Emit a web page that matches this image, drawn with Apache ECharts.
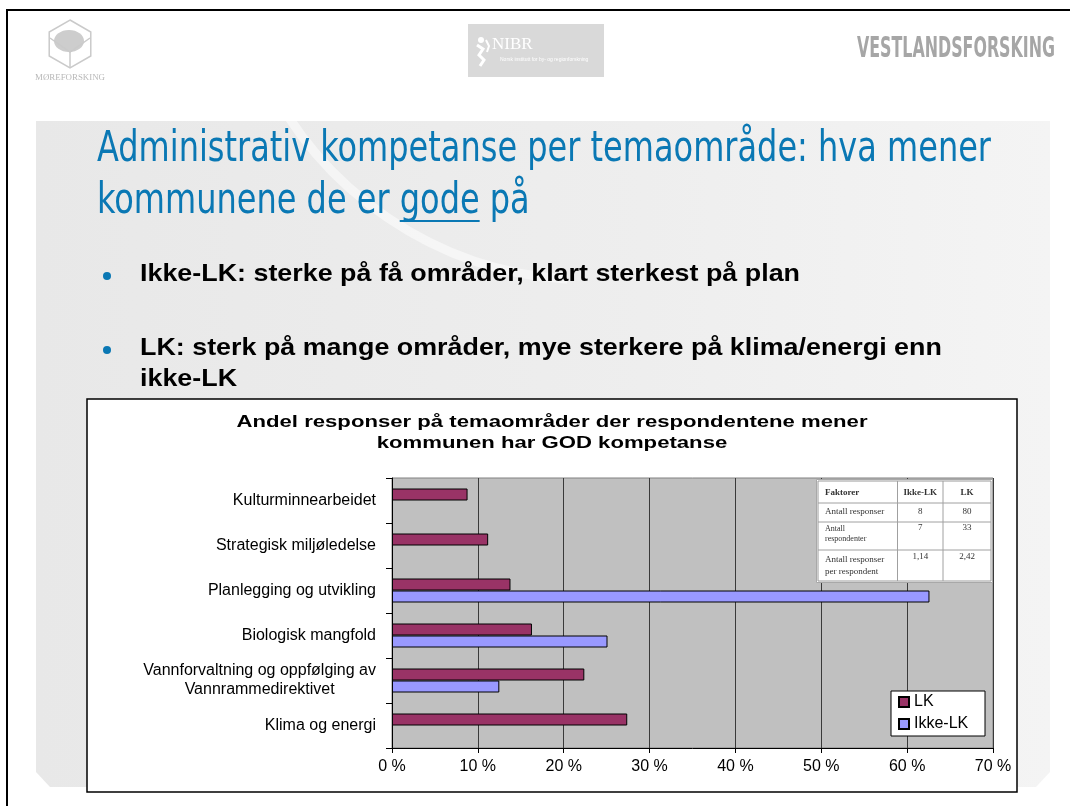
<!DOCTYPE html>
<html>
<head>
<meta charset="utf-8">
<script src="https://cdn.jsdelivr.net/npm/echarts@6/dist/echarts.min.js"></script>
<style>
  html, body { margin: 0; padding: 0; background: #fff; }
  #chart { width: 1070px; height: 806px; }
</style>
</head>
<body>
<div id="chart"></div>
<script>
// ---- Data ----
const categories = [
  'Kulturminnearbeidet',
  'Strategisk miljøledelse',
  'Planlegging og utvikling',
  'Biologisk mangfold',
  'Vannforvaltning og oppfølging av\nVannrammedirektivet',
  'Klima og energi'
];
const lkValues = [8.8, 11.2, 13.8, 16.3, 22.4, 27.4];      // LK, % of responses
const ikkeLkValues = [0, 0, 62.6, 25.1, 12.5, 0];           // Ikke-LK, % of responses
const seriesNames = ['LK', 'Ikke-LK'];
const xAxisMin = 0, xAxisMax = 70, xAxisStep = 10;

// Small summary table shown inside the plot
const tableHeader = ['Faktorer', 'Ikke-LK', 'LK'];
const tableRowLabels = [['Antall responser'], ['Antall', 'respondenter'], ['Antall responser', 'per respondent']];
const tableIkkeLk = ['8', '7', '1,14'];
const tableLk = ['80', '33', '2,42'];

// Slide texts
const slideTitle = ['Administrativ kompetanse per temaområde: hva mener', 'kommunene de er ', 'gode', ' på'];
const bullets = [
  ['Ikke-LK: sterke på få områder, klart sterkest på plan'],
  ['LK: sterk på mange områder, mye sterkere på klima/energi enn', 'ikke-LK']
];
const chartTitle = ['Andel responser på temaområder der respondentene mener', 'kommunen har GOD kompetanse'];

// ---- Styling helpers ----
const SANS = "'Liberation Sans', Arial, sans-serif";
const NARROW = "'Liberation Sans Narrow', 'DejaVu Sans Condensed', 'Liberation Sans', sans-serif";
const SERIF = "'Liberation Serif', 'Times New Roman', serif";
const BLUE = '#0a78b4';

const mctx = document.createElement('canvas').getContext('2d');
function textWidth(str, font) { mctx.font = font; return mctx.measureText(str).width; }
function fitScale(str, font, target) { return target / textWidth(str, font); }

// zero shares are left undrawn
const barData = arr => arr.map(v => (v === 0 ? '-' : v));

// ---- Slide decoration ----
const graphics = [];

// slide frame
graphics.push({ type: 'rect', z: -20, shape: { x: 6, y: 9, width: 2, height: 797 }, style: { fill: '#000' } });
graphics.push({ type: 'rect', z: -20, shape: { x: 6, y: 9, width: 1064, height: 2 }, style: { fill: '#000' } });

// grey background panel
graphics.push({
  type: 'polygon', z: -19,
  shape: { points: [[36, 121], [1050, 121], [1050, 772], [1036, 787], [50, 787], [36, 772]] },
  style: { fill: new echarts.graphic.LinearGradient(0, 0, 1, 0, [
    { offset: 0, color: '#e8e8e8' }, { offset: 0.6, color: '#eeeeee' }, { offset: 1, color: '#f4f4f4' }]) }
});
graphics.push({
  type: 'arc', z: -18,
  shape: { cx: 590, cy: -80, r: 360, startAngle: Math.PI * 0.52, endAngle: Math.PI * 0.86 },
  style: { stroke: '#ffffff', lineWidth: 9, opacity: 0.5, fill: null }
});

// logos
(function () {
  const cx = 70, cy = 44, r = 24;
  const pts = [];
  for (let i = 0; i < 6; i++) {
    const a = -Math.PI / 2 + i * Math.PI / 3;
    pts.push([cx + r * Math.cos(a), cy + r * Math.sin(a)]);
  }
  graphics.push({ type: 'polygon', shape: { points: pts }, style: { fill: null, stroke: '#cacaca', lineWidth: 1.5 } });
  graphics.push({ type: 'ellipse', shape: { cx: cx - 1, cy: cy - 3, rx: 15, ry: 11 }, style: { fill: '#cdcdcd' } });
  graphics.push({ type: 'polyline', shape: { points: [[cx - 20, cy - 6], [cx, cy + 8], [cx + 20, cy - 6]] }, style: { stroke: '#cacaca', lineWidth: 1.5, fill: null } });
  graphics.push({ type: 'line', shape: { x1: cx, y1: cy + 8, x2: cx, y2: cy + r }, style: { stroke: '#cacaca', lineWidth: 1.5 } });
  const f = `8px ${SERIF}`;
  graphics.push({ type: 'text', x: 35, y: 78, scaleX: fitScale('MØREFORSKING', f, 70),
    style: { text: 'MØREFORSKING', font: f, fill: '#b8b8b8', align: 'left', verticalAlign: 'middle' } });
})();

graphics.push({ type: 'rect', shape: { x: 468, y: 24, width: 136, height: 53 }, style: { fill: '#d9d9d9' } });
graphics.push({ type: 'circle', shape: { cx: 481, cy: 40, r: 3 }, style: { fill: '#fff' } });
graphics.push({ type: 'polyline', shape: { points: [[477, 45], [483, 49], [479, 55], [484, 60], [480, 66]] }, style: { stroke: '#fff', lineWidth: 3, fill: null } });
graphics.push({ type: 'polyline', shape: { points: [[486, 40], [489, 46], [487, 52]] }, style: { stroke: '#fff', lineWidth: 2, fill: null } });
graphics.push({ type: 'text', x: 492, y: 45, style: { text: 'NIBR', font: `17px ${SERIF}`, fill: '#fff', align: 'left', verticalAlign: 'middle' } });
graphics.push({ type: 'text', x: 500, y: 60, style: { text: 'Norsk institutt for by- og regionforskning', font: `5px ${SANS}`, fill: '#fff', align: 'left', verticalAlign: 'middle' } });

(function () {
  const f = `bold 28px ${NARROW}`;
  graphics.push({ type: 'text', x: 857, y: 50, scaleX: fitScale('VESTLANDSFORSKING', f, 198),
    style: { text: 'VESTLANDSFORSKING', font: f, fill: '#a6a6a6', align: 'left', verticalAlign: 'middle' } });
})();

// slide title
(function () {
  const f = `43px ${NARROW}`;
  const s = fitScale(slideTitle[0], f, 894);
  graphics.push({ type: 'text', x: 97, y: 150, scaleX: s, style: { text: slideTitle[0], font: f, fill: BLUE, align: 'left', verticalAlign: 'middle' } });
  const line2 = slideTitle[1] + slideTitle[2] + slideTitle[3];
  graphics.push({ type: 'text', x: 97, y: 201.5, scaleX: s, style: { text: line2, font: f, fill: BLUE, align: 'left', verticalAlign: 'middle' } });
  const u0 = 97 + s * textWidth(slideTitle[1], f);
  const u1 = 97 + s * textWidth(slideTitle[1] + slideTitle[2], f);
  graphics.push({ type: 'rect', shape: { x: u0, y: 220, width: u1 - u0, height: 2 }, style: { fill: BLUE } });
})();

// bullets
(function () {
  const f = `bold 24px ${SANS}`;
  const s = fitScale(bullets[0][0], f, 660);
  const ys = [[274.5], [348, 379.5]];
  const dots = [276, 350];
  bullets.forEach((b, i) => {
    graphics.push({ type: 'circle', shape: { cx: 107, cy: dots[i], r: 4 }, style: { fill: BLUE } });
    b.forEach((line, j) => {
      graphics.push({ type: 'text', x: 140, y: ys[i][j], scaleX: s, style: { text: line, font: f, fill: '#000', align: 'left', verticalAlign: 'middle' } });
    });
  });
})();

// chart frame
graphics.push({ type: 'rect', z: -9, shape: { x: 87, y: 399, width: 930, height: 393 }, style: { fill: '#fff', stroke: '#000', lineWidth: 1.5 } });

// chart title
(function () {
  const f = `bold 17px ${SANS}`;
  const s = fitScale(chartTitle[0], f, 631);
  graphics.push({ type: 'text', x: 552, y: 422, scaleX: s, style: { text: chartTitle[0], font: f, fill: '#000', align: 'center', verticalAlign: 'middle' } });
  graphics.push({ type: 'text', x: 552, y: 443, scaleX: s, style: { text: chartTitle[1], font: f, fill: '#000', align: 'center', verticalAlign: 'middle' } });
})();

// summary table in the plot corner
(function () {
  const colX = [818, 897.5, 943, 991];
  const rowY = [481, 503, 522, 550, 581];
  const Z = 50;
  graphics.push({ type: 'rect', z: Z, shape: { x: 816.5, y: 479.5, width: 176, height: 103 }, style: { fill: '#fff', stroke: '#a8a8a8', lineWidth: 1 } });
  graphics.push({ type: 'rect', z: Z, shape: { x: colX[0], y: rowY[0], width: colX[3] - colX[0], height: rowY[4] - rowY[0] }, style: { fill: '#fff', stroke: '#9a9a9a', lineWidth: 1 } });
  for (let i = 1; i < 4; i++) {
    graphics.push({ type: 'line', z: Z, shape: { x1: colX[0], y1: rowY[i], x2: colX[3], y2: rowY[i] }, style: { stroke: '#a0a0a0', lineWidth: 1 } });
  }
  for (let i = 1; i < 3; i++) {
    graphics.push({ type: 'line', z: Z, shape: { x1: colX[i], y1: rowY[0], x2: colX[i], y2: rowY[4] }, style: { stroke: '#a0a0a0', lineWidth: 1 } });
  }
  const c2 = (colX[1] + colX[2]) / 2, c3 = (colX[2] + colX[3]) / 2;
  const hf = `bold 9px ${SERIF}`, bf = `9px ${SERIF}`;
  const txt = (t, x, y, f, align) => graphics.push({ type: 'text', z: Z + 1, x, y, style: { text: t, font: f, fill: '#333', align, verticalAlign: 'middle' } });
  txt(tableHeader[0], 825, 493, hf, 'left');
  txt(tableHeader[1], c2, 493, hf, 'center');
  txt(tableHeader[2], c3, 493, hf, 'center');
  const labelYs = [[512], [529, 538.5], [560, 572]];
  const valueYs = [512, 528, 557];
  const rowFonts = [bf, `8px ${SERIF}`, bf];
  tableRowLabels.forEach((lines, r) => {
    lines.forEach((t, j) => txt(t, 825, labelYs[r][j], rowFonts[r], 'left'));
    txt(tableIkkeLk[r], c2, valueYs[r], bf, 'center');
    txt(tableLk[r], c3, valueYs[r], bf, 'center');
  });
})();

// ---- Chart ----
const legendFont = `16px ${SANS}`;
const legendTextW = Math.max(...seriesNames.map(n => textWidth(n, legendFont)));

const chart = echarts.init(document.getElementById('chart'), null, { renderer: 'canvas' });
chart.setOption({
  backgroundColor: 'transparent',
  animation: false,
  textStyle: { fontFamily: SANS },
  grid: {
    left: 392, top: 478, width: 601, height: 270,
    show: true, backgroundColor: '#c0c0c0', borderColor: '#808080', borderWidth: 1,
    containLabel: false
  },
  legend: {
    data: seriesNames,
    orient: 'vertical',
    left: 891, top: 691,
    icon: 'rect',
    itemWidth: 10, itemHeight: 10, itemGap: 4,
    padding: [2, Math.max(2, 93 - 7 - 15 - legendTextW), 3, 7],
    backgroundColor: '#fff', borderColor: '#000', borderWidth: 1, borderRadius: 0,
    textStyle: { fontSize: 16, fontFamily: SANS, color: '#000', lineHeight: 18, padding: [0, 0, 0, 0] },
    selectedMode: false
  },
  xAxis: {
    type: 'value',
    min: xAxisMin, max: xAxisMax, interval: xAxisStep,
    axisLine: { show: true, lineStyle: { color: '#000', width: 1 } },
    axisTick: { show: true, inside: false, length: 5, lineStyle: { color: '#000' } },
    axisLabel: { formatter: '{value} %', color: '#000', fontSize: 16, fontFamily: SANS, margin: 11 },
    splitLine: { show: true, lineStyle: { color: '#3a3a3a', width: 1 } }
  },
  yAxis: {
    type: 'category',
    data: categories,
    inverse: true,
    axisLine: { show: true, lineStyle: { color: '#000', width: 1 } },
    axisTick: { show: true, inside: false, length: 6, lineStyle: { color: '#000' } },
    axisLabel: {
      margin: 16, color: '#000', fontSize: 16, fontFamily: SANS, lineHeight: 19,
      formatter: v => v.split('\n').map(s => '{c|' + s + '}').join('\n'),
      rich: { c: { align: 'center', fontSize: 16, fontFamily: SANS, color: '#000', lineHeight: 19 } }
    },
    splitLine: { show: false }
  },
  series: [
    {
      name: seriesNames[0], type: 'bar', data: barData(lkValues),
      barWidth: 12, barGap: '0%',
      itemStyle: { color: '#993366', borderColor: '#000', borderWidth: 1 }
    },
    {
      name: seriesNames[1], type: 'bar', data: barData(ikkeLkValues),
      barWidth: 12, barGap: '0%',
      itemStyle: { color: '#9999ff', borderColor: '#000', borderWidth: 1 }
    }
  ],
  graphic: { elements: graphics }
});
</script>
</body>
</html>
